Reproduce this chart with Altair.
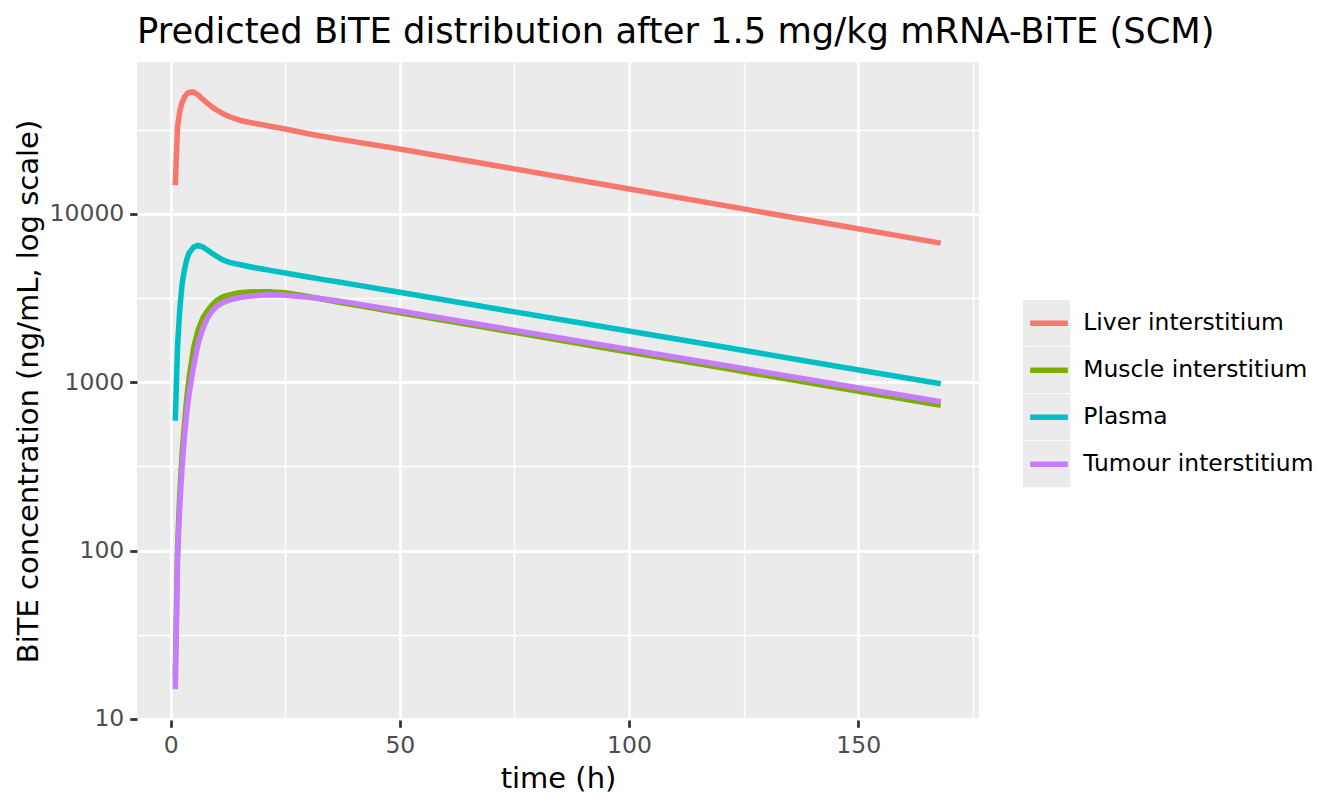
import altair as alt
import pandas as pd

# ---- data ----
time_h = [1, 1.5, 2, 2.5, 3, 3.5, 4, 5, 6, 7, 8, 9, 10, 11, 12, 13, 15, 17, 20, 22, 25, 30, 33, 37,
          42, 48, 72, 96, 120, 144, 168]
liver = [14800, 33000, 41000, 46000, 49300, 51500, 52700, 53000, 50800, 48000, 45400, 43200, 41400,
         39900, 38700, 37600, 36000, 35000, 33800, 33000, 31900, 29900, 28900, 27700,
         26300, 24800, 19100, 14700, 11300, 8700, 6700]
muscle = [18, 105, 220, 380, 560, 800, 1050, 1600, 2050, 2400, 2650, 2870, 3050,
          3170, 3260, 3310, 3400, 3430, 3450, 3440, 3400, 3230, 3120, 2970,
          2820, 2640, 2040, 1575, 1220, 942, 728]
plasma = [590, 1650, 2750, 3850, 4650, 5350, 5850, 6350, 6500, 6350, 6100, 5830, 5600,
          5400, 5250, 5130, 5000, 4870, 4700, 4600, 4450, 4220, 4080, 3920,
          3720, 3490, 2700, 2100, 1630, 1260, 980]
tumour = [15, 90, 190, 320, 480, 660, 850, 1250, 1700, 2080, 2400, 2630, 2820,
          2930, 3020, 3090, 3180, 3240, 3300, 3310, 3280, 3200, 3130, 3030,
          2880, 2700, 2100, 1630, 1270, 985, 766]

series_names = ["Liver interstitium", "Muscle interstitium", "Plasma", "Tumour interstitium"]
series_colors = ["#F8766D", "#7CAE00", "#00BFC4", "#C77CFF"]
x_ticks = [0, 50, 100, 150]
x_minor = [25, 75, 125, 175]
y_ticks = [10, 100, 1000, 10000]
y_minor = [31.62, 316.2, 3162, 31623]

rows = []
for name, vals in zip(series_names, [liver, muscle, plasma, tumour]):
    for t, v in zip(time_h, vals):
        rows.append({"time": t, "conc": v, "series": name, "key": name})
df = pd.DataFrame(rows)

FONT = "DejaVu Sans"
xscale = alt.Scale(domain=[-7.35, 176.35], nice=False, zero=False)
yscale = alt.Scale(type="log", domain=[9.85, 79800], nice=False)

KEY = 46.3
LINE_KEY = 37.7

# background layer: minor grid axes + grey legend key boxes
bg = alt.Chart(df).mark_square(opacity=0, size=10).encode(
    x=alt.X("time:Q", scale=xscale,
            axis=alt.Axis(orient="top", values=x_minor, grid=True, gridColor="white",
                          gridWidth=1.4, labels=False, ticks=False, domain=False, title=None)),
    y=alt.Y("conc:Q", scale=yscale,
            axis=alt.Axis(orient="right", values=y_minor, grid=True, gridColor="white",
                          gridWidth=1.4, labels=False, ticks=False, domain=False, title=None)),
    fill=alt.Fill("key:N", scale=alt.Scale(range=["#EBEBEB"] * 4),
                  legend=alt.Legend(orient="none", legendX=885.7, legendY=238, title=None,
                                    symbolType="square", symbolSize=KEY * KEY,
                                    symbolStrokeColor="#EBEBEB", symbolStrokeWidth=1,
                                    clipHeight=KEY, rowPadding=0, padding=0,
                                    labelExpr="''", labelFontSize=1)),
)

lines = alt.Chart(df).mark_line(strokeWidth=5.5, strokeCap="butt", strokeJoin="round").encode(
    x=alt.X("time:Q", scale=xscale,
            axis=alt.Axis(values=x_ticks, title="time (h)", grid=True, gridColor="white",
                          gridWidth=2.8, domain=False, tickColor="#333333", tickWidth=2.8,
                          tickSize=7.3, labelPadding=5.9, labelColor="#4D4D4D",
                          labelFontSize=23.5, titleFontSize=29, titleFontWeight="normal",
                          titleColor="black", titleY=67, titleBaseline="alphabetic")),
    y=alt.Y("conc:Q", scale=yscale,
            axis=alt.Axis(values=y_ticks, format="d", title="BiTE concentration (ng/mL, log scale)",
                          grid=True, gridColor="white", gridWidth=2.8, domain=False,
                          tickColor="#333333", tickWidth=2.8, tickSize=7.3, labelPadding=5.9,
                          labelColor="#4D4D4D", labelFontSize=23.5, titleFontSize=29,
                          titleFontWeight="normal", titleColor="black", titleAngle=270,
                          titleX=-100, titleY=329, titleAlign="center",
                          titleBaseline="alphabetic")),
    stroke=alt.Stroke("series:N", scale=alt.Scale(domain=series_names, range=series_colors),
                      legend=alt.Legend(orient="none", legendX=890, legendY=238, title=None,
                                        symbolType="stroke", symbolSize=LINE_KEY * LINE_KEY,
                                        symbolStrokeWidth=5.5, clipHeight=KEY, rowPadding=0,
                                        padding=0, labelOffset=12.3, labelFontSize=23.4,
                                        labelLimit=400, labelColor="black")),
)

chart = alt.layer(bg, lines).resolve_axis(x="independent", y="independent").properties(
    width=842, height=658,
    autosize=alt.AutoSizeParams(type="none"),
    padding={"left": 129, "top": 54, "right": 357, "bottom": 78},
    title=alt.Title("Predicted BiTE distribution after 1.5 mg/kg mRNA-BiTE (SCM)",
                    anchor="start", frame="group", fontSize=35.3, fontWeight="normal",
                    color="black", font=FONT, offset=12),
).configure(font=FONT).configure_view(fill="#EBEBEB", stroke=None)

chart.save("out.html", embed_options={"renderer": "svg", "actions": False})
